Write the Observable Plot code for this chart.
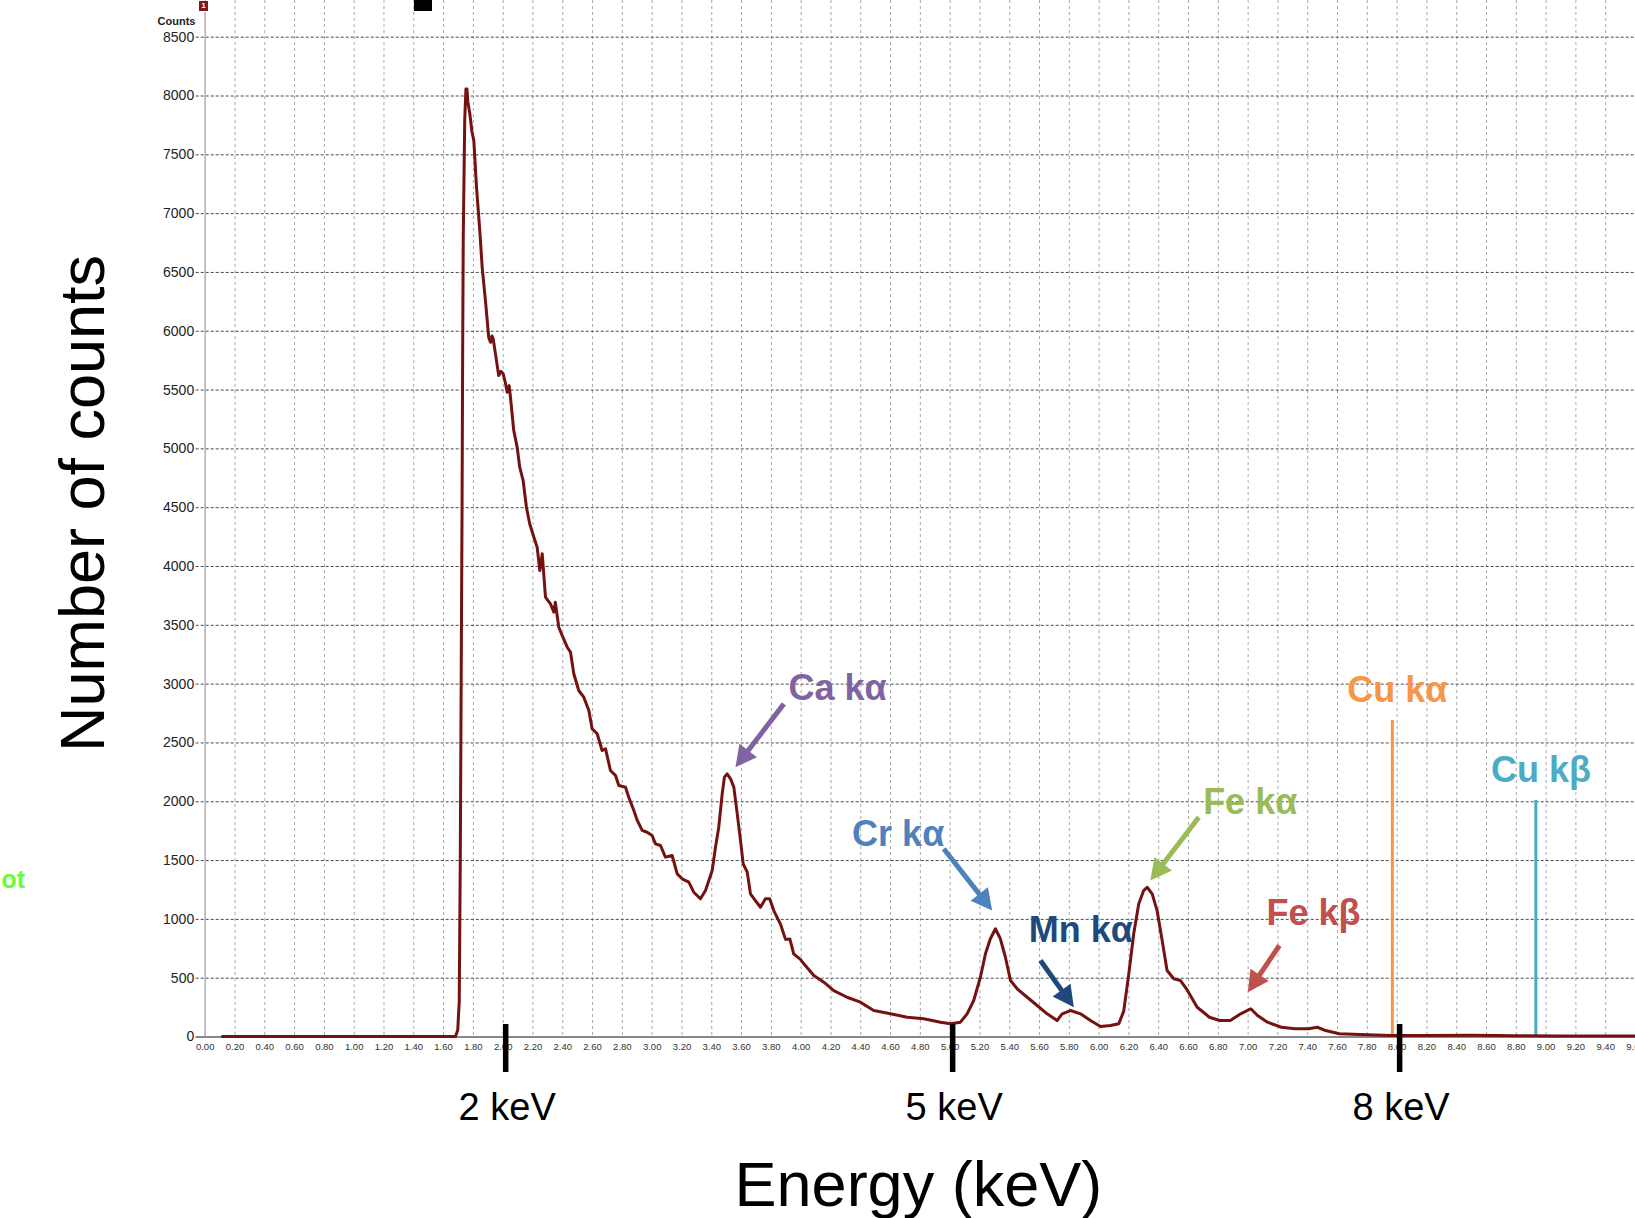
<!DOCTYPE html>
<html><head><meta charset="utf-8">
<script src="https://cdn.jsdelivr.net/npm/d3@7"></script>
<script src="https://cdn.jsdelivr.net/npm/@observablehq/plot@0.6"></script>
<style>
html,body{margin:0;padding:0;background:#fff;}
#chart{position:relative;width:1635px;height:1218px;overflow:hidden;background:#fff;}
.badge{position:absolute;left:199px;top:1px;width:9px;height:10px;background:#7a1a1a;color:#fff;font:bold 8px "Liberation Sans",Arial,sans-serif;text-align:center;line-height:10px;}
.blk{position:absolute;left:414px;top:0;width:18px;height:11px;background:#000;}
</style></head><body><div id="chart"><div class="badge">1</div><div class="blk"></div></div>
<script>
// ---- spectrum (energy in keV, counts) ----
const energies = [0.115,1.68,1.695,1.705,1.712,1.718,1.724,1.728,1.732,1.737,1.742,1.750,1.757,1.763,1.776,1.790,1.803,1.821,1.843,1.859,1.881,1.903,1.915,1.925,1.933,1.948,1.970,1.985,2.000,2.015,2.027,2.040,2.049,2.071,2.094,2.111,2.134,2.156,2.178,2.206,2.228,2.246,2.262,2.284,2.317,2.340,2.350,2.373,2.396,2.430,2.452,2.474,2.507,2.541,2.575,2.597,2.631,2.664,2.687,2.720,2.754,2.776,2.821,2.843,2.877,2.900,2.933,2.966,3.000,3.022,3.056,3.089,3.134,3.168,3.201,3.246,3.279,3.324,3.358,3.403,3.425,3.447,3.470,3.485,3.503,3.526,3.548,3.571,3.593,3.611,3.638,3.660,3.693,3.727,3.760,3.789,3.816,3.861,3.895,3.924,3.950,3.995,4.018,4.085,4.152,4.219,4.308,4.398,4.487,4.600,4.711,4.823,4.935,5.002,5.069,5.114,5.158,5.203,5.237,5.270,5.304,5.337,5.371,5.405,5.450,5.517,5.584,5.651,5.718,5.752,5.808,5.875,5.942,6.009,6.076,6.132,6.165,6.199,6.232,6.266,6.299,6.322,6.356,6.389,6.423,6.456,6.501,6.546,6.591,6.658,6.740,6.810,6.880,6.950,7.018,7.063,7.130,7.223,7.315,7.405,7.465,7.520,7.612,7.750,7.955,8.200,8.500,8.800,9.100,9.600];
const counts = [5,5,60,300,1500,3000,4500,5800,6800,7300,7800,8060,8060,7950,7850,7700,7620,7224,6856,6544,6260,5948,5906,5960,5935,5810,5623,5660,5638,5560,5482,5538,5439,5156,5014,4844,4731,4504,4363,4249,4164,3966,4108,3739,3683,3612,3697,3484,3413,3314,3271,3088,2946,2889,2776,2620,2578,2436,2450,2266,2223,2138,2124,2039,1926,1841,1756,1741,1713,1642,1628,1529,1543,1387,1345,1316,1231,1175,1245,1415,1614,1784,2067,2209,2237,2195,2124,1897,1670,1472,1401,1217,1160,1103,1175,1175,1075,960,830,834,707,660,622,523,466,395,338,296,225,197,168,155,126,112,126,197,310,508,707,835,920,835,678,480,410,338,268,197,140,197,225,197,140,89,98,112,220,537,877,1132,1245,1273,1217,1075,820,565,495,480,400,253,168,140,140,197,240,183,126,83,70,70,83,55,27,21,13,12,14,10,8,8];

// ---- axes ----
const xTicks = d3.range(0, 49).map(i => +(i * 0.2).toFixed(2));   // 0.00 … 9.60
const yTicks = d3.range(0, 8501, 500);                            // 0 … 8500
const markerKeV = [2, 5, 8];
const markerLabels = ["2 keV", "5 keV", "8 keV"];
const xTitle = "Energy (keV)";
const yTitle = "Number of counts";
const yUnit = "Counts";
const sideText = "ot";

// ---- peak annotations ----
const annLabels = ["Ca kα", "Cr kα", "Mn kα", "Fe kα", "Fe kβ"];
const annColors = ["#8064a2", "#4f81bd", "#1f497d", "#9bbb59", "#c0504d"];
const annTextX = [3.915, 4.342, 5.528, 6.698, 7.123];
const annTextY = [2861, 1628, 806, 1897, 949];
const arrowFromX = [3.884, 4.957, 5.606, 6.669, 7.210];
const arrowFromY = [2832, 1600, 650, 1869, 778];
const arrowToX = [3.559, 5.282, 5.830, 6.344, 6.998];
const arrowToY = [2294, 1075, 253, 1331, 381];

// ---- Cu reference lines ----
const cuLabels = ["Cu kα", "Cu kβ"];
const cuColors = ["#f79646", "#4bacc6"];
const cuKeV = [7.968, 8.931];
const cuLineTop = [2691, 2011];
const cuTextX = [7.666, 8.630];
const cuTextY = [2846, 2166];

// ---- layout ----
const W = 1635, H = 1218, ML = 204.7, MR = 0, MT = 36.7, MB = 181.5;
const xDomain = [0, 9.6], yDomain = [0, 8500];
const kx = (W - ML - MR) / (xDomain[1] - xDomain[0]);
const ky = (H - MT - MB) / (yDomain[1] - yDomain[0]);
const FONT = "Liberation Sans, Arial, Helvetica, sans-serif";

const spectrum = energies.map((e, i) => ({e, c: counts[i]}));
const ann = annLabels.map((t, i) => ({
  t, color: annColors[i], tx: annTextX[i], ty: annTextY[i],
  x1: arrowFromX[i], y1: arrowFromY[i], x2: arrowToX[i], y2: arrowToY[i]
}));
// arrow heads computed in pixel space, mapped back to data units
const headLen = 21, headHalf = 11;
const heads = [];
ann.forEach((a, i) => {
  const px = (a.x2 - a.x1) * kx, py = -(a.y2 - a.y1) * ky;
  const L = Math.hypot(px, py), ux = px / L, uy = py / L;
  const bx = -ux * headLen, by = -uy * headLen;
  const pts = [[0, 0], [bx - uy * headHalf, by + ux * headHalf], [bx + uy * headHalf, by - ux * headHalf]];
  pts.forEach(([ox, oy]) => heads.push({i, color: a.color, x: a.x2 + ox / kx, y: a.y2 - oy / ky}));
  a.bx = a.x2 + (bx + ux * 3) / kx;
  a.by = a.y2 - (by + uy * 3) / ky;
});
const cu = cuLabels.map((t, i) => ({t, color: cuColors[i], x: cuKeV[i], top: cuLineTop[i], tx: cuTextX[i], ty: cuTextY[i]}));

const chart = Plot.plot({
  width: W, height: H,
  marginLeft: ML, marginRight: MR, marginTop: MT, marginBottom: MB,
  x: {domain: xDomain},
  y: {domain: yDomain},
  color: {type: "identity"},
  style: {fontFamily: FONT, background: "white", overflow: "visible"},
  marks: [
    // grid
    Plot.ruleX(xTicks, {stroke: "#a8a8a8", strokeDasharray: "3,3", strokeWidth: 1, insetTop: -MT}),
    Plot.ruleY(yTicks, {stroke: "#4a4a4a", strokeDasharray: "3,2", strokeWidth: 1, insetLeft: -9}),
    // axis lines
    Plot.ruleX([0], {stroke: "#b5b5b5", strokeWidth: 1.5, insetTop: -24}),
    Plot.ruleY([0], {stroke: "#888", strokeWidth: 2, insetLeft: -9}),
    Plot.axisX({ticks: xTicks, tickFormat: d => d.toFixed(2), tickSize: 0, tickPadding: 6, fontSize: 9.5, label: null, fill: "#333"}),
    Plot.axisY({ticks: yTicks, tickFormat: d => String(d), tickSize: 0, tickPadding: 11, fontSize: 14, label: null, fill: "#222"}),
    Plot.text([yUnit], {frameAnchor: "top-left", dx: -9.7, dy: -12.7, textAnchor: "end", lineAnchor: "bottom", fontSize: 11, fontWeight: "bold", fill: "#222"}),
    // Cu reference lines
    Plot.ruleX(cu, {x: "x", y1: 0, y2: "top", stroke: "color", strokeWidth: 3}),
    // spectrum
    Plot.line(spectrum, {x: "e", y: "c", stroke: "#741111", strokeWidth: 3, strokeLinejoin: "round"}),
    // keV markers
    Plot.ruleX(markerKeV, {y1: 0, y2: 0, insetTop: -12.5, insetBottom: -35.5, stroke: "black", strokeWidth: 5.5, dx: 2.5}),
    Plot.text(markerKeV, {x: d => d, text: (d, i) => markerLabels[i], frameAnchor: "bottom", dy: 82.5, dx: 4, lineAnchor: "bottom", fontSize: 38, fill: "#000"}),
    // annotation arrows
    Plot.link(ann, {x1: "x1", y1: "y1", x2: "bx", y2: "by", stroke: "color", strokeWidth: 5}),
    Plot.line(heads, {x: "x", y: "y", z: "i", fill: "color", stroke: "none"}),
    Plot.text(ann, {x: "tx", y: "ty", text: "t", fill: "color", fontSize: 36, fontWeight: "bold", textAnchor: "start", lineAnchor: "bottom"}),
    Plot.text(cu, {x: "tx", y: "ty", text: "t", fill: "color", fontSize: 36, fontWeight: "bold", textAnchor: "start", lineAnchor: "bottom"}),
    // titles
    Plot.text([xTitle], {frameAnchor: "bottom", dy: 168.5, dx: -2, textAnchor: "middle", lineAnchor: "bottom", fontSize: 63, fill: "#000"}),
    Plot.text([yTitle], {frameAnchor: "left", rotate: -90, dx: -101.7, dy: -33.6, textAnchor: "middle", lineAnchor: "bottom", fontSize: 63, fill: "#000"}),
    Plot.text([sideText], {frameAnchor: "left", dx: 1 - ML, dy: 351, textAnchor: "start", lineAnchor: "bottom", fontSize: 25, fontWeight: "bold", fill: "#66ff33"})
  ]
});
chart.style.position = "absolute";
chart.style.left = "0";
chart.style.top = "0";
const host = document.getElementById("chart");
host.insertBefore(chart, host.firstChild);
</script>
</body></html>
